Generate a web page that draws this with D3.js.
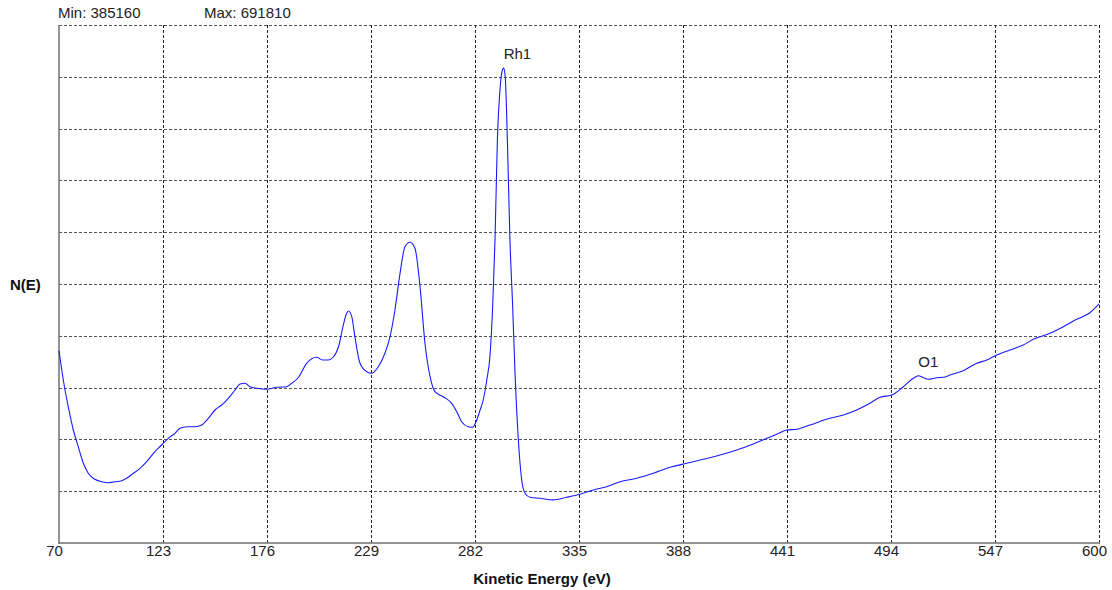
<!DOCTYPE html>
<html>
<head>
<meta charset="utf-8">
<script src="https://cdn.jsdelivr.net/npm/d3@7"></script>
<style>
  html, body { margin: 0; padding: 0; background: #fff; }
  svg { display: block; font-family: "Liberation Sans", Arial, sans-serif; }
</style>
</head>
<body>
<svg id="chart" width="1112" height="590"></svg>
<script>
// ---- data ----
const energy = [70.0,72.2,74.7,77.3,79.8,82.4,84.9,88.3,91.8,95.1,98.5,102.0,104.5,107.9,111.3,114.7,118.1,122.3,125.7,129.1,131.7,135.1,139.3,142.7,146.1,149.5,152.9,156.3,159.7,162.2,164.8,167.3,170.8,175.8,180.9,186.0,188.6,192.0,196.2,201.3,204.3,207.1,209.8,212.7,214.7,216.6,217.5,219.2,220.8,223.4,226.8,229.4,232.7,236.1,238.7,241.2,243.8,246.3,248.9,251.4,254.0,256.5,259.1,261.6,265.8,270.1,272.7,275.2,278.6,280.8,282.9,284.6,286.2,288.0,289.6,291.0,292.2,293.4,294.7,296.1,296.6,297.4,298.5,299.8,301.2,302.4,304.1,305.8,307.5,310.0,315.1,321.9,328.7,335.5,342.3,349.1,355.9,364.4,372.9,381.4,389.9,398.3,406.9,415.4,423.8,430.7,437.4,440.8,445.9,452.7,461.2,469.7,476.5,483.3,488.4,494.4,500.3,505.4,507.9,510.5,513.0,517.3,520.7,524.1,530.8,537.7,542.8,547.9,554.6,561.4,566.5,575.0,581.8,588.6,595.4,600.0];
const counts = [491100,470290,451320,434770,422900,411110,404010,399740,398040,397330,398040,398750,400460,404010,407560,412250,418220,424110,428870,432420,435980,437110,437110,438320,443080,448980,452530,457290,463180,467450,467940,465530,464390,463680,465100,465530,467940,472060,482150,486410,484490,484490,486630,495150,508150,517670,519300,515250,501050,482150,476180,475050,479740,489260,501050,520020,546090,564980,568110,563850,536570,496360,472630,461980,458420,453740,447770,440660,437110,436690,441870,448980,456080,470290,486840,522360,569740,640780,676300,691010,691810,685750,640780,569740,522360,475050,427670,399250,389800,386960,386250,385160,386960,389090,392150,394490,398040,400460,404010,408270,411110,413950,417010,420560,424820,428870,432850,434770,435270,438320,442370,445430,448980,453740,458000,459630,465530,471500,473340,471920,470790,471920,472210,473840,476890,482150,484490,488050,491600,495150,499200,503460,508150,513410,518100,524280];
const xTicks = [70,123,176,229,282,335,388,441,494,547,600];
const peakLabels = ["Rh1","O1"];
const peakEnergies = [296.6, 507.9];
const xTitle = "Kinetic Energy (eV)";
const yTitle = "N(E)";
const yDivisions = 10;

// ---- layout ----
const W = 1112, H = 590;
const margin = {left: 59, top: 25, right: 13, bottom: 47};
const iw = W - margin.left - margin.right;
const ih = H - margin.top - margin.bottom;

const svg = d3.select("#chart");
const g = svg.append("g").attr("transform", `translate(${margin.left},${margin.top})`);

const data = energy.map((e, i) => ({e, v: counts[i]}));
const vmin = d3.min(counts), vmax = d3.max(counts);
const pad = (vmax - vmin) * 0.1;

const x = d3.scaleLinear().domain([xTicks[0], xTicks[xTicks.length - 1]]).range([0, iw]);
const y = d3.scaleLinear().domain([vmin - pad, vmax + pad]).range([ih, 0]);
const yTicks = d3.range(yDivisions + 1).map(i => y.domain()[0] + i * (y.domain()[1] - y.domain()[0]) / yDivisions);

// grid lines
g.append("g").selectAll("line.h").data(yTicks.slice(1)).join("line")
  .attr("x1", 0).attr("x2", iw)
  .attr("y1", d => Math.round(y(d)) + 0.5).attr("y2", d => Math.round(y(d)) + 0.5)
  .attr("stroke", "#555").attr("stroke-width", 1).attr("stroke-dasharray", "3,2");
g.append("g").selectAll("line.v").data(xTicks.slice(1)).join("line")
  .attr("x1", d => Math.round(x(d)) + 0.5).attr("x2", d => Math.round(x(d)) + 0.5)
  .attr("y1", 0).attr("y2", ih)
  .attr("stroke", "#222").attr("stroke-width", 1).attr("stroke-dasharray", "3,2");

// x axis (labels only; axis line drawn separately)
const xAxis = g.append("g").attr("transform", `translate(0,${ih})`)
  .call(d3.axisBottom(x).tickValues(xTicks).tickSize(0).tickPadding(0).tickFormat(d3.format("d")));
xAxis.select(".domain").remove();
xAxis.selectAll("text")
  .attr("dx", -5).attr("dy", 0).attr("y", 13)
  .attr("font-family", "'Liberation Sans', Arial, sans-serif")
  .attr("font-size", 15).attr("fill", "#222");

// axis frame lines (left and bottom solid grey)
g.append("line").attr("x1", 0).attr("x2", 0).attr("y1", 0).attr("y2", ih + 1)
  .attr("stroke", "#707070").attr("stroke-width", 1.5);
g.append("line").attr("x1", 0).attr("x2", iw + 1).attr("y1", ih).attr("y2", ih)
  .attr("stroke", "#707070").attr("stroke-width", 1.5);

// spectrum line
const line = d3.line().x(d => x(d.e)).y(d => y(d.v)).curve(d3.curveMonotoneX);
g.append("path").datum(data)
  .attr("d", line).attr("fill", "none")
  .attr("stroke", "#1a1aff").attr("stroke-width", 1.1);

// peak labels
peakLabels.forEach((lab, i) => {
  const pt = data.reduce((a, b) => Math.abs(b.e - peakEnergies[i]) < Math.abs(a.e - peakEnergies[i]) ? b : a);
  g.append("text").attr("x", x(pt.e)).attr("y", y(pt.v) - 9)
    .attr("font-size", 15).attr("fill", "#222").text(lab);
});

// min / max header
svg.append("text").attr("x", 58).attr("y", 18).attr("font-size", 15).attr("fill", "#222")
  .text("Min: " + vmin);
svg.append("text").attr("x", 204).attr("y", 18).attr("font-size", 15).attr("fill", "#222")
  .text("Max: " + vmax);

// axis titles
svg.append("text").attr("x", 542).attr("y", 584).attr("text-anchor", "middle")
  .attr("font-size", 15).attr("font-weight", "bold").attr("fill", "#111").text(xTitle);
svg.append("text").attr("x", 10).attr("y", 290)
  .attr("font-size", 15).attr("font-weight", "bold").attr("fill", "#111").text(yTitle);
</script>
</body>
</html>
